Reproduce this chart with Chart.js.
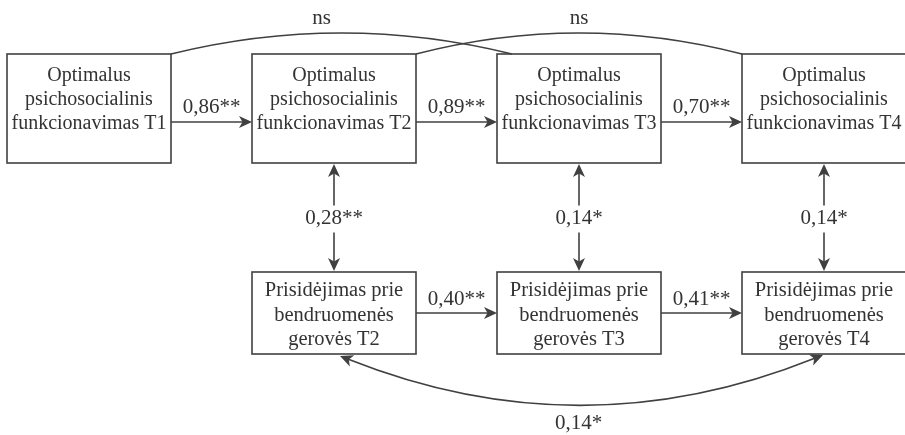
<!DOCTYPE html>
<html>
<head>
<meta charset="utf-8">
<script src="https://cdn.jsdelivr.net/npm/chart.js@4/dist/chart.umd.min.js"></script>
<style>
  html, body { margin: 0; padding: 0; background: #fff; }
  #wrap { width: 905px; height: 435px; }
</style>
</head>
<body>
<div id="wrap"><canvas id="pathChart" width="905" height="435"></canvas></div>
<script>
// model data
const waves = ['T1', 'T2', 'T3', 'T4'];
const bottomWaves = ['T2', 'T3', 'T4'];
const topConstruct = ['Optimalus', 'psichosocialinis', 'funkcionavimas'];
const bottomConstruct = ['Prisidėjimas prie', 'bendruomenės', 'gerovės'];
const topPaths = ['0,86**', '0,89**', '0,70**'];        // T1->T2, T2->T3, T3->T4
const bottomPaths = ['0,40**', '0,41**'];               // T2->T3, T3->T4
const crossPaths = ['0,28**', '0,14*', '0,14*'];        // T2, T3, T4 correlations
const laggedPaths = ['ns', 'ns'];                       // T1->T3, T2->T4
const bottomCovariance = ['0,14*'];                     // T2<->T4

const INK = '#404040';
const TXT = '#333';
const FONT = '20px "Liberation Serif", "DejaVu Serif", serif';
const BOX_FONT_BOTTOM = '20.5px "Liberation Serif", "DejaVu Serif", serif';
const NUM_FONT = '21px "Liberation Serif", "DejaVu Serif", serif';

const arrowHead = (ctx, x, y, ang) => {
    ctx.save();
    ctx.translate(x, y);
    ctx.rotate(ang);
    ctx.beginPath();
    ctx.moveTo(0, 0);
    ctx.lineTo(-13, -6);
    ctx.lineTo(-9.5, 0);
    ctx.lineTo(-13, 6);
    ctx.closePath();
    ctx.fillStyle = INK;
    ctx.fill();
    ctx.restore();
};

const line = (ctx, x1, y1, x2, y2) => {
    ctx.beginPath();
    ctx.moveTo(x1, y1);
    ctx.lineTo(x2, y2);
    ctx.stroke();
};

const label = (ctx, text, x, y) => {
    ctx.fillStyle = TXT;
    ctx.fillText(text, x, y);
};

const diagramPlugin = {
    id: 'diagram',
    afterDatasetsDraw(chart) {
        const { ctx } = chart;
        const sx = chart.scales.x, sy = chart.scales.y;
        const X = v => sx.getPixelForValue(v);
        const Y = v => sy.getPixelForValue(v);
        const bw = 164, thTop = 109, thBot = 82;
        const yTop = Y(0), yBot = Y(1);

        ctx.save();
        ctx.strokeStyle = INK;
        ctx.lineWidth = 1.6;
        ctx.textAlign = 'center';
        ctx.textBaseline = 'middle';

        // top boxes
        ctx.font = FONT;
        waves.forEach((w, i) => {
            const cx = X(i);
            ctx.strokeRect(cx - bw / 2, yTop - thTop / 2, bw, thTop);
            const lines = [topConstruct[0], topConstruct[1], topConstruct[2] + ' ' + w];
            lines.forEach((t, k) => label(ctx, t, cx, yTop - 33 + k * 24));
        });

        // bottom boxes
        ctx.font = BOX_FONT_BOTTOM;
        bottomWaves.forEach((w, i) => {
            const cx = X(i + 1);
            ctx.strokeRect(cx - bw / 2, yBot - thBot / 2, bw, thBot);
            const lines = [bottomConstruct[0], bottomConstruct[1], bottomConstruct[2] + ' ' + w];
            lines.forEach((t, k) => label(ctx, t, cx, yBot - 22 + k * 24.5));
        });

        ctx.font = NUM_FONT;

        // top stability paths
        topPaths.forEach((p, i) => {
            const x1 = X(i) + bw / 2, x2 = X(i + 1) - bw / 2, y = yTop + 13.5;
            line(ctx, x1, y, x2 - 9, y);
            arrowHead(ctx, x2, y, 0);
            label(ctx, p, (x1 + x2) / 2, y - 15);
        });

        // bottom stability paths
        bottomPaths.forEach((p, i) => {
            const x1 = X(i + 1) + bw / 2, x2 = X(i + 2) - bw / 2, y = yBot;
            line(ctx, x1, y, x2 - 9, y);
            arrowHead(ctx, x2, y, 0);
            label(ctx, p, (x1 + x2) / 2, y - 14);
        });

        // cross-sectional correlations
        crossPaths.forEach((p, i) => {
            const cx = X(i + 1);
            const y1 = yTop + thTop / 2, y2 = yBot - thBot / 2;
            const ym = (y1 + y2) / 2 + 1;
            line(ctx, cx, y1 + 9, cx, ym - 13);
            arrowHead(ctx, cx, y1 + 1, -Math.PI / 2);
            line(ctx, cx, ym + 14, cx, y2 - 9);
            arrowHead(ctx, cx, y2 - 1, Math.PI / 2);
            label(ctx, p, cx, ym);
        });

        // lagged (ns) curves on top
        laggedPaths.forEach((p, i) => {
            const x1 = X(i) + bw / 2;
            const x2 = X(i + 2) - bw / 2 + (i === 0 ? 15 : 0);
            const y0 = yTop - thTop / 2;
            const cxm = (x1 + x2) / 2;
            ctx.beginPath();
            ctx.moveTo(x1, y0);
            ctx.quadraticCurveTo(cxm, y0 - 42, x2, y0);
            ctx.stroke();
            label(ctx, p, i === 0 ? cxm - 20 : cxm, y0 - 36);
        });

        // bottom covariance T2 <-> T4
        bottomCovariance.forEach(p => {
            const x1 = X(1) + 6, x2 = X(3) - 1;
            const y1 = yBot + thBot / 2 + 2, y2 = yBot + thBot / 2 + 1;
            const cxm = (x1 + x2) / 2, cym = 452;
            const a1 = Math.atan2(y1 - cym, x1 - cxm);
            const a2 = Math.atan2(y2 - cym, x2 - cxm);
            ctx.beginPath();
            ctx.moveTo(x1 - 9 * Math.cos(a1), y1 - 9 * Math.sin(a1));
            ctx.quadraticCurveTo(cxm, cym, x2 - 9 * Math.cos(a2), y2 - 9 * Math.sin(a2));
            ctx.stroke();
            arrowHead(ctx, x1, y1, a1);
            arrowHead(ctx, x2, y2, a2);
            label(ctx, p, cxm - 3, 423);
        });

        ctx.restore();
    }
};

const nodes = waves.map((w, i) => ({ x: i, y: 0 }))
    .concat(bottomWaves.map((w, i) => ({ x: i + 1, y: 1 })));

const ctx = document.getElementById('pathChart').getContext('2d');
const chart = new Chart(ctx, {
    type: 'scatter',
    data: {
        datasets: [{ data: nodes, pointRadius: 0, pointHoverRadius: 0 }]
    },
    options: {
        responsive: false,
        animation: false,
        layout: { padding: 0 },
        plugins: { legend: { display: false }, tooltip: { enabled: false } },
        scales: {
            x: { type: 'linear', display: false, min: -89 / 245, max: (905 - 89) / 245 },
            y: { type: 'linear', display: false, reverse: true, min: -108.5 / 204.5, max: (435 - 108.5) / 204.5 }
        }
    },
    plugins: [diagramPlugin]
});
</script>
</body>
</html>
